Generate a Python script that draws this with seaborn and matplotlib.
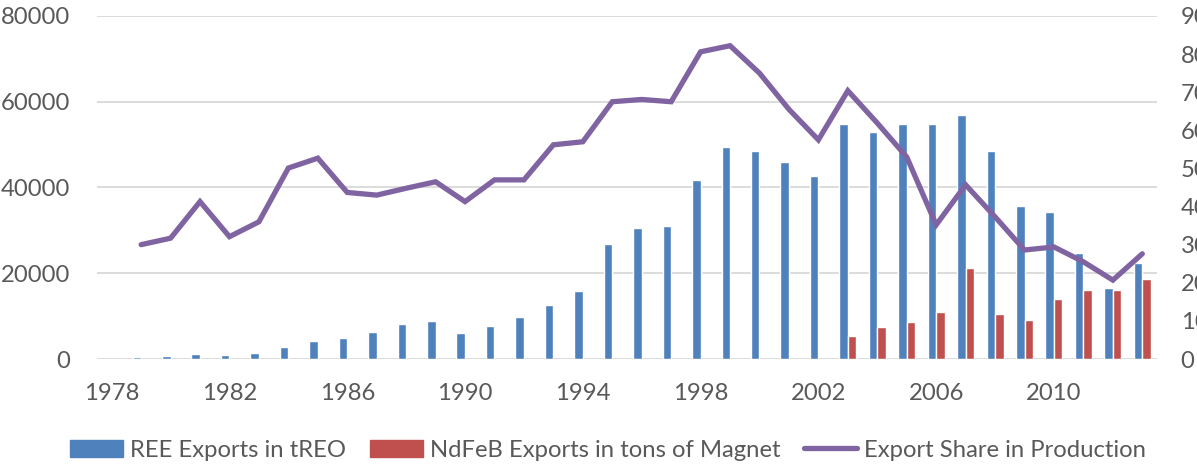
import numpy as np
import pandas as pd
import seaborn as sns
import matplotlib.pyplot as plt
from matplotlib.patches import Patch
from matplotlib.lines import Line2D

years = list(range(1978, 2014))
ree_exports = [np.nan, 400, 800, 1100, 900, 1400, 2900, 4300, 5000, 6400,
               8200, 8900, 6000, 7800, 9700, 12500, 15800, 26800, 30500, 31100,
               41700, 49500, 48600, 45900, 42700, 54700, 53000, 54900, 54900, 57000,
               48600, 35700, 34300, 24700, 16500, 22500]
ndfeb_exports = [np.nan] * 25 + [5400, 7500, 8600, 11000, 21300,
                                 10600, 9200, 13900, 16000, 16000, 18700]
export_share = [np.nan, 30, 31.7, 41.3, 32.1, 36, 50.1, 52.7, 43.7, 43,
                44.8, 46.5, 41.3, 47, 47, 56.2, 57, 67.5, 68.1, 67.5,
                80.6, 82.2, 75, 65.5, 57.5, 70.4, 61.9, 53, 35.2, 45.7,
                37.3, 28.6, 29.4, 25.5, 20.7, 27.6]

series_names = ['REE Exports in tREO', 'NdFeB Exports in tons of Magnet']
line_name = 'Export Share in Production'
blue, red, purple = '#4F81BD', '#C0504D', '#8064A2'
text_col = '#595959'

year_labels = [str(y) for y in years]
df = pd.DataFrame({
    'year': year_labels * 2,
    'value': ree_exports + ndfeb_exports,
    'series': [series_names[0]] * len(years) + [series_names[1]] * len(years),
})

sns.set_style('white')
plt.rcParams['font.family'] = ['Lato', 'DejaVu Sans']
fs = 17.2

fig = plt.figure(figsize=(11.97, 4.66), dpi=100)
ax = fig.add_axes([0.081, 0.2296, 0.8856, 0.7361])

sns.barplot(data=df, x='year', y='value', hue='series', order=year_labels,
            hue_order=series_names, palette=[blue, red], width=0.58,
            saturation=1, ax=ax, legend=False)

ax.set_ylim(0, 80000)
ax.set_yticks(range(0, 80001, 20000))
ax.set_xlim(-0.5, len(years) - 0.5)
ax.set_xticks(range(0, len(years), 4))
ax.set_xticklabels(year_labels[::4])
ax.grid(axis='y', color='#D9D9D9', linewidth=1.3)
ax.set_axisbelow(True)
ax.set_xlabel('')
ax.set_ylabel('')
for s in ax.spines.values():
    s.set_visible(False)
ax.tick_params(axis='y', length=0, pad=19, labelsize=fs, labelcolor=text_col)
ax.tick_params(axis='x', length=0, pad=17, labelsize=fs, labelcolor=text_col)

ax2 = ax.twinx()
sns.lineplot(x=np.arange(len(years)), y=export_share, ax=ax2, color=purple,
             linewidth=3.8, solid_joinstyle='miter')
ax2.set_ylim(0, 90)
ax2.set_yticks(range(0, 91, 10))
ax2.set_xlim(-0.5, len(years) - 0.5)
for s in ax2.spines.values():
    s.set_visible(False)
ax2.tick_params(axis='y', length=0, pad=17, labelsize=fs, labelcolor=text_col)
ax2.grid(False)

handles = [Patch(color=blue), Patch(color=red),
           Line2D([0], [0], color=purple, linewidth=3.8)]
fig.legend(handles, series_names + [line_name], loc='center',
           bbox_to_anchor=(0.508, 0.034), ncol=3, frameon=False,
           fontsize=fs, labelcolor=text_col, handlelength=2.2,
           handletextpad=0.3, columnspacing=1.0)

fig.savefig('out.png', dpi=100)
